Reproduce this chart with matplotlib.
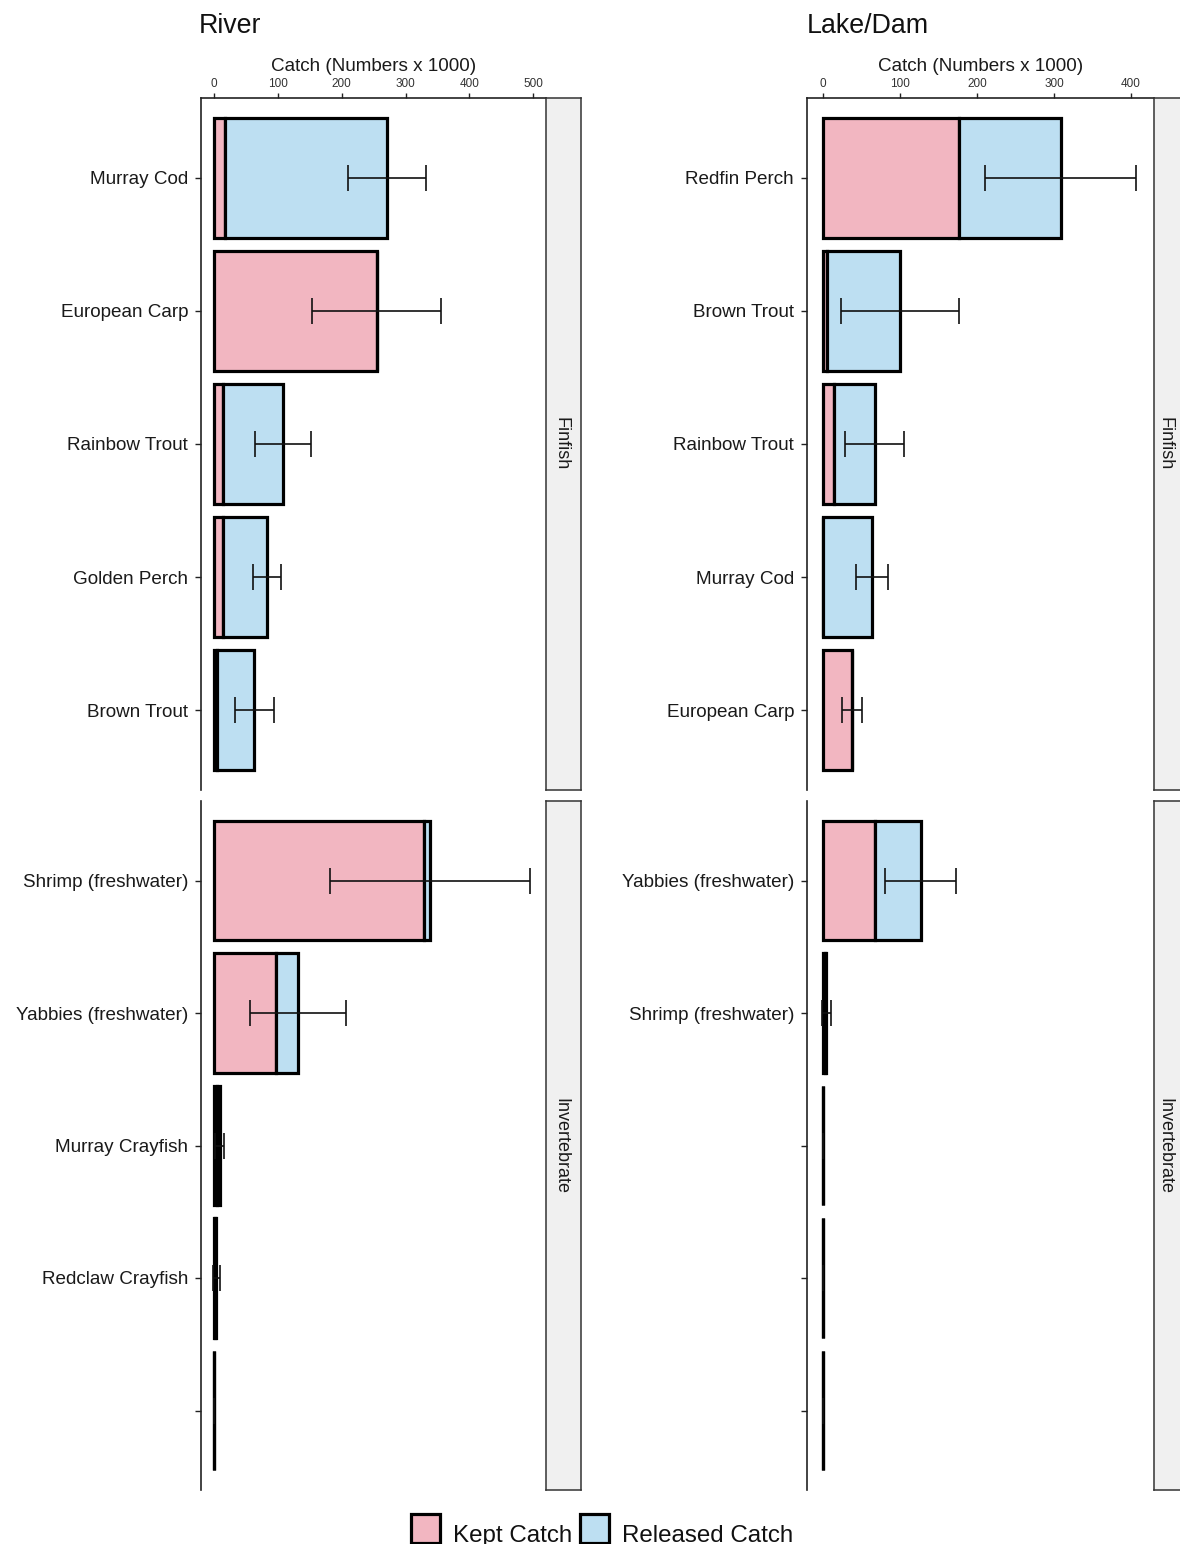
import matplotlib
matplotlib.use("Agg")
import matplotlib.pyplot as plt
from matplotlib.patches import Rectangle

plt.rcParams["font.family"] = ["Liberation Sans", "DejaVu Sans"]

# ---------------- data (catch in thousands) ----------------
river_fin_species = ["Murray Cod", "European Carp", "Rainbow Trout", "Golden Perch", "Brown Trout"]
river_fin_kept = [17, 255, 14, 14, 5]
river_fin_released = [254, 0, 94, 69, 58]
river_fin_err = [61, 101, 44, 22, 31]

river_inv_species = ["Shrimp (freshwater)", "Yabbies (freshwater)", "Murray Crayfish", "Redclaw Crayfish", ""]
river_inv_kept = [329, 97, 4.5, 1.75, 0.5]
river_inv_released = [9, 35, 4.5, 1.75, 0]
river_inv_err = [157, 75, 7, 5.5, 0]

lake_fin_species = ["Redfin Perch", "Brown Trout", "Rainbow Trout", "Murray Cod", "European Carp"]
lake_fin_kept = [177, 5, 14, 0, 38]
lake_fin_released = [132, 95, 53, 64, 0]
lake_fin_err = [98, 77, 38, 21, 13]

lake_inv_species = ["Yabbies (freshwater)", "Shrimp (freshwater)", "", "", ""]
lake_inv_kept = [67, 2.25, 0.5, 0.5, 0.5]
lake_inv_released = [60, 2.25, 0, 0, 0]
lake_inv_err = [46, 5.5, 0, 0, 0]

river_xticks = [0, 100, 200, 300, 400, 500]
lake_xticks = [0, 100, 200, 300, 400]
groups = ["Finfish", "Invertebrate"]
legend_labels = ["Kept Catch", "Released Catch"]

KEPT = "#F2B6C1"
RELEASED = "#BDDFF2"
LINE = "#222222"

W, H = 1180, 1544
fig = plt.figure(figsize=(W / 100, H / 100), dpi=100)


def box(x0, y0, x1, y1):
    """Pixel box (origin top-left) -> figure-fraction rect."""
    return [x0 / W, 1 - y1 / H, (x1 - x0) / W, (y1 - y0) / H]


def draw_panel(rect, species, kept, released, err, xlim, xticks, top):
    ax = fig.add_axes(rect)
    pos = list(range(len(species)))
    total = [k + r for k, r in zip(kept, released)]
    ax.barh(pos, kept, height=0.9, color=KEPT, edgecolor="black", linewidth=2.3, zorder=2)
    ax.barh(pos, released, left=kept, height=0.9, color=RELEASED, edgecolor="black",
            linewidth=2.3, zorder=2)
    ax.errorbar(total, pos, xerr=err, fmt="none", ecolor="#111111", elinewidth=1.2,
                capsize=9.7, capthick=1.2, zorder=3)
    ax.set_ylim(len(species) - 0.4, -0.6)
    ax.set_xlim(*xlim)
    ax.set_yticks(pos)
    ax.set_yticklabels(species, fontsize=13.6, color="#1a1a1a")
    ax.tick_params(axis="y", length=4.5, width=1.0, color=LINE, pad=4.8)
    for s in ("right", "bottom"):
        ax.spines[s].set_visible(False)
    ax.spines["left"].set_color(LINE)
    ax.spines["left"].set_linewidth(1.2)
    if top:
        ax.spines["top"].set_color(LINE)
        ax.spines["top"].set_linewidth(1.2)
        ax.xaxis.tick_top()
        ax.set_xticks(xticks)
        ax.tick_params(axis="x", length=3.5, width=1.0, color=LINE, pad=2.5,
                       labelsize=8.5, labelcolor="#333333")
        ax.xaxis.set_label_position("top")
        ax.set_xlabel("Catch (Numbers x 1000)", fontsize=13.6, color="#1a1a1a", labelpad=4.5)
    else:
        ax.spines["top"].set_visible(False)
        ax.set_xticks([])
    ax.set_facecolor("white")
    return ax


def draw_strip(rect, label, xfrac):
    ax = fig.add_axes(rect)
    ax.set_facecolor("#F0F0F0")
    ax.set_xticks([])
    ax.set_yticks([])
    for s in ax.spines.values():
        s.set_color("#333333")
        s.set_linewidth(1.1)
    ax.text(xfrac, 0.5, label, rotation=270, ha="center", va="center",
            fontsize=13, color="#1a1a1a", transform=ax.transAxes)


# River column
draw_panel(box(201, 98, 546, 790), river_fin_species, river_fin_kept, river_fin_released,
           river_fin_err, (-20.5, 520), river_xticks, True)
draw_panel(box(201, 801, 546, 1490), river_inv_species, river_inv_kept, river_inv_released,
           river_inv_err, (-20.5, 520), river_xticks, False)
draw_strip(box(546, 98, 581, 790), groups[0], 0.42)
draw_strip(box(546, 801, 581, 1490), groups[1], 0.42)

# Lake/Dam column (its strip runs past the right edge of the figure)
draw_panel(box(807, 98, 1154, 790), lake_fin_species, lake_fin_kept, lake_fin_released,
           lake_fin_err, (-20.8, 430), lake_xticks, True)
draw_panel(box(807, 801, 1154, 1490), lake_inv_species, lake_inv_kept, lake_inv_released,
           lake_inv_err, (-20.8, 430), lake_xticks, False)
draw_strip(box(1154, 98, 1189, 790), groups[0], 0.32)
draw_strip(box(1154, 801, 1189, 1490), groups[1], 0.32)

# column titles
fig.text(199 / W, 1 - 26 / H, "River", fontsize=19.3, va="center", ha="left", color="#111111")
fig.text(807 / W, 1 - 26 / H, "Lake/Dam", fontsize=19.3, va="center", ha="left", color="#111111")

# legend along the bottom edge
for (x0, lab), col in zip([(411, legend_labels[0]), (580, legend_labels[1])], [KEPT, RELEASED]):
    fig.add_artist(Rectangle((x0 / W, 1 - 1543 / H), 29 / W, 29 / H, transform=fig.transFigure,
                             facecolor=col, edgecolor="black", linewidth=2.3))
    fig.text((x0 + 42) / W, 1 - 1542 / H, lab, fontsize=17.4, ha="left", va="baseline",
             color="#111111")

fig.savefig("out.png", dpi=100)
